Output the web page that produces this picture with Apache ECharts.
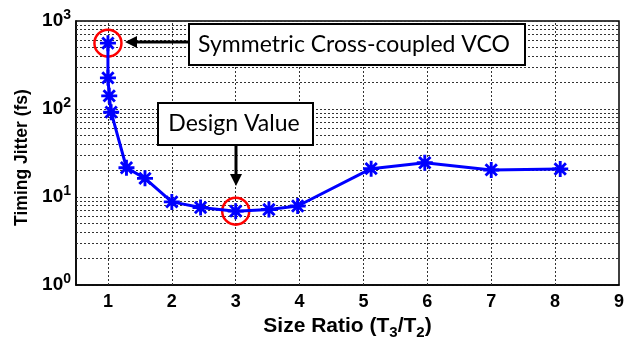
<!DOCTYPE html>
<html><head><meta charset="utf-8">
<script src="https://cdn.jsdelivr.net/npm/echarts@6/dist/echarts.min.js"></script>
<style>html,body{margin:0;padding:0;background:#fff}#c{width:637px;height:345px}</style>
</head><body><div id="c"></div>
<script>
const sizeRatio = [1, 1, 1.02, 1.05, 1.29, 1.58, 2.0, 2.45, 3.0, 3.52, 3.97, 5.12, 5.96, 7.0, 8.08];
const jitterFs = [560, 226, 141, 92, 21.5, 16.3, 8.8, 7.6, 6.9, 7.2, 7.9, 21, 24.5, 20.3, 20.8];
const xGridValues = [1, 2, 3, 4, 5, 6, 7, 8];
const yMinorValues = [2,3,4,5,6,7,8,9,20,30,40,50,60,70,80,90,200,300,400,500,600,700,800,900];
const highlighted = [[1, 560], [3, 6.9]];
const labelTop = 'Symmetric Cross-coupled VCO';
const labelDesign = 'Design Value';

const star = 'path://M0 8.2L20 8.2L20 11.8L0 11.8Z M8.2 0L11.8 0L11.8 20L8.2 20Z ' +
  'M4.2 1.65L18.35 15.8L15.8 18.35L1.65 4.2Z M18.35 4.2L4.2 18.35L1.65 15.8L15.8 1.65Z';

const pts = sizeRatio.map((x, i) => [x, jitterFs[i]]);
const gridStyle = {color: '#333', type: [2, 2], width: 1};
const FF = 'Liberation Sans, Arial';

const chart = echarts.init(document.getElementById('c'));
chart.setOption({
  animation: false,
  grid: {left: 76, top: 21, right: 18, bottom: 59, show: true, borderColor: '#000', borderWidth: 1.5, backgroundColor: 'transparent'},
  xAxis: {
    type: 'value', min: 0.5, max: 9, interval: 0.5,
    axisLine: {show: true, lineStyle: {color: '#000', width: 1.5}},
    axisTick: {show: false},
    splitLine: {show: false},
    axisLabel: {
      formatter: v => (Math.abs(v - Math.round(v)) < 1e-6 && v >= 1) ? String(Math.round(v)) : '',
      color: '#000', fontFamily: FF, fontWeight: 'bold', fontSize: 18, margin: 8
    },
    name: '{b|Size Ratio (T}{s|3}{b|/T}{s|2}{b|)}',
    nameLocation: 'middle', nameGap: 28,
    nameTextStyle: {rich: {
      b: {fontFamily: FF, fontWeight: 'bold', fontSize: 21, color: '#000'},
      s: {fontFamily: FF, fontWeight: 'bold', fontSize: 15, color: '#000', padding: [12, 0, 0, 0]}
    }}
  },
  yAxis: {
    type: 'log', logBase: 10, min: 1, max: 1000, splitNumber: 3,
    axisLine: {show: true, lineStyle: {color: '#000', width: 1.5}},
    axisTick: {show: false},
    splitLine: {show: true, lineStyle: gridStyle},
    axisLabel: {
      formatter: v => '{b|10}{s|' + Math.round(Math.log10(v)) + '}',
      margin: 5,
      rich: {
        b: {fontFamily: FF, fontWeight: 'bold', fontSize: 19, color: '#000'},
        s: {fontFamily: FF, fontWeight: 'bold', fontSize: 14, color: '#000', padding: [0, 0, 12, 0]}
      }
    },
    name: 'Timing Jitter (fs)',
    nameLocation: 'middle', nameGap: 45,
    nameTextStyle: {fontFamily: FF, fontWeight: 'bold', fontSize: 17.5, color: '#000', padding: [0, 9, 0, 0]}
  },
  series: [
    {
      type: 'line', data: pts, showSymbol: false, silent: true, z: 1,
      lineStyle: {opacity: 0},
      markLine: {
        silent: true, symbol: 'none', label: {show: false}, animation: false,
        lineStyle: gridStyle,
        data: xGridValues.map(v => ({xAxis: v})).concat(yMinorValues.map(v => ({yAxis: v})))
      }
    },
    {
      type: 'line', data: pts, z: 5,
      symbol: star, symbolSize: 16,
      itemStyle: {color: '#0000ff'},
      lineStyle: {color: '#0000ff', width: 3},
      markPoint: {
        silent: true, symbol: 'circle', symbolSize: 27,
        itemStyle: {color: 'rgba(0,0,0,0)', borderColor: '#ff0000', borderWidth: 2.5},
        label: {show: false},
        data: highlighted.map(p => ({coord: p}))
      }
    }
  ],
  graphic: [
    {type: 'rect', shape: {x: 189, y: 24, width: 336, height: 41}, style: {fill: '#fff', stroke: '#000', lineWidth: 2}, z: 10},
    {type: 'text', x: 354, y: 45, style: {text: labelTop, font: '23px Lato', fill: '#000', align: 'center', verticalAlign: 'middle'}, z: 11},
    {type: 'rect', shape: {x: 158, y: 103, width: 155, height: 42}, style: {fill: '#fff', stroke: '#000', lineWidth: 2}, z: 10},
    {type: 'text', x: 234, y: 124, style: {text: labelDesign, font: '23px Lato', fill: '#000', align: 'center', verticalAlign: 'middle'}, z: 11},
    {type: 'line', shape: {x1: 188, y1: 42, x2: 134, y2: 42}, style: {stroke: '#000', lineWidth: 3}, z: 10},
    {type: 'polygon', shape: {points: [[125, 42], [137, 36], [137, 48]]}, style: {fill: '#000'}, z: 10},
    {type: 'line', shape: {x1: 236, y1: 145, x2: 236, y2: 176}, style: {stroke: '#000', lineWidth: 3}, z: 10},
    {type: 'polygon', shape: {points: [[236, 186], [230, 174], [242, 174]]}, style: {fill: '#000'}, z: 10}
  ]
});
</script></body></html>
